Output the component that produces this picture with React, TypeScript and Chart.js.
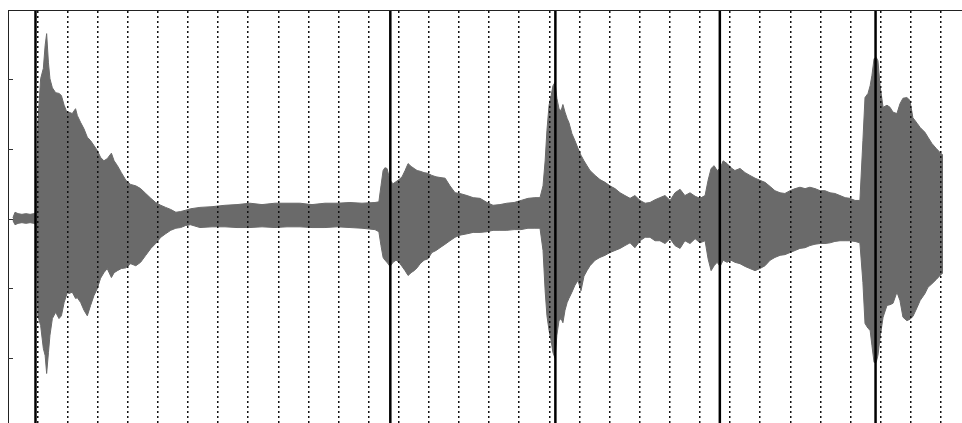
import { useEffect, useRef } from "react";
import { Chart, registerables } from "chart.js";

Chart.register(...registerables);

// time axis (grid units) of each envelope sample
const times = [
  -0.81, -0.74, -0.64, -0.51, -0.38, -0.24, -0.11, -0.04,
  0.02, 0.11, 0.2, 0.26, 0.31, 0.37, 0.42, 0.5, 0.61, 0.72,
  0.8, 0.89, 1.0, 1.05, 1.16, 1.27, 1.33, 1.44, 1.55, 1.66,
  1.77, 1.88, 1.99, 2.1, 2.21, 2.32, 2.46, 2.55, 2.66, 2.79,
  2.94, 3.1, 3.27, 3.43, 3.6, 3.77, 3.93, 4.1, 4.26, 4.43,
  4.6, 4.76, 4.93, 5.09,
  5.4, 5.8, 6.23, 6.63, 7.06, 7.46,
  7.89, 8.29, 8.72, 9.12, 9.55, 9.95, 10.38, 10.78, 11.21, 11.34,
  11.41, 11.48, 11.54, 11.61, 11.71, 11.81, 11.91, 12.01, 12.11, 12.21,
  12.31, 12.41, 12.51, 12.61, 12.71, 12.84, 12.97, 13.1, 13.24, 13.37,
  13.54, 13.7, 13.87, 14.03, 14.27, 14.47, 14.7, 14.93, 15.13, 15.36,
  15.59, 15.83, 16.06, 16.29, 16.52, 16.69, 16.79, 16.86, 16.92, 16.99,
  17.06, 17.12, 17.19, 17.25, 17.32, 17.39, 17.45, 17.52, 17.59, 17.65,
  17.75, 17.85, 17.95, 18.05, 18.15, 18.25, 18.35, 18.52, 18.68, 18.85,
  19.01, 19.18, 19.35, 19.51, 19.68, 19.84, 20.01, 20.18, 20.34, 20.51,
  20.67, 20.84, 21.01, 21.17, 21.34, 21.5, 21.67, 21.84, 22.0, 22.17,
  22.27, 22.37, 22.47, 22.57, 22.67, 22.77, 22.9, 23.03, 23.16, 23.33,
  23.5, 23.66, 23.83, 23.99, 24.16, 24.33, 24.49, 24.66, 24.82, 24.99,
  25.16, 25.32, 25.49, 25.65, 25.82, 25.99, 26.15, 26.32, 26.48, 26.65,
  26.82, 26.98, 27.15, 27.31, 27.41, 27.48, 27.58, 27.65, 27.71, 27.78,
  27.85, 27.91, 27.98, 28.08, 28.21, 28.31, 28.41, 28.54, 28.64, 28.74,
  28.87, 28.97, 29.07, 29.21, 29.31, 29.47, 29.57, 29.7, 29.84, 29.97,
  30.07,
];

// upper envelope of the waveform
const upperEnvelope = [
  0.01, 0.09, 0.07, 0.06, 0.07, 0.06, 0.07, 0.09,
  1.38, 2.01, 2.16, 2.49, 2.66, 2.24, 2.01, 1.88, 1.81, 1.8,
  1.77, 1.63, 1.51, 1.53, 1.51, 1.58, 1.48, 1.38, 1.29, 1.17,
  1.12, 1.05, 0.98, 0.88, 0.83, 0.86, 0.94, 0.83, 0.76, 0.66,
  0.55, 0.49, 0.47, 0.43, 0.36, 0.29, 0.23, 0.19, 0.16, 0.13,
  0.09, 0.1, 0.12, 0.14,
  0.16, 0.17, 0.19, 0.2, 0.22, 0.2,
  0.22, 0.22, 0.22, 0.2, 0.22, 0.22, 0.23, 0.22, 0.23, 0.24,
  0.47, 0.69, 0.73, 0.72, 0.55, 0.5, 0.53, 0.56, 0.6, 0.69,
  0.79, 0.75, 0.72, 0.69, 0.68, 0.66, 0.65, 0.62, 0.6, 0.59,
  0.58, 0.47, 0.37, 0.36, 0.33, 0.3, 0.29, 0.23, 0.19, 0.2,
  0.22, 0.23, 0.26, 0.29, 0.3, 0.3, 0.47, 0.83, 1.27, 1.63,
  1.77, 1.91, 1.96, 1.73, 1.58, 1.55, 1.64, 1.53, 1.44, 1.38,
  1.22, 1.12, 1.01, 0.91, 0.83, 0.76, 0.69, 0.62, 0.56, 0.52,
  0.47, 0.43, 0.37, 0.33, 0.29, 0.33, 0.26, 0.22, 0.23, 0.27,
  0.3, 0.33, 0.26, 0.37, 0.42, 0.33, 0.37, 0.32, 0.29, 0.33,
  0.55, 0.72, 0.76, 0.69, 0.72, 0.83, 0.79, 0.73, 0.69, 0.72,
  0.66, 0.62, 0.58, 0.55, 0.52, 0.46, 0.4, 0.37, 0.36, 0.4,
  0.43, 0.45, 0.43, 0.45, 0.43, 0.4, 0.4, 0.37, 0.36, 0.33,
  0.3, 0.29, 0.26, 0.26, 1.12, 1.74, 1.8, 1.91, 2.06, 2.3,
  2.32, 2.27, 1.91, 1.6, 1.63, 1.6, 1.53, 1.51, 1.65, 1.73,
  1.74, 1.7, 1.45, 1.37, 1.31, 1.24, 1.17, 1.08, 1.01, 0.95,
  0.91,
];

// lower envelope of the waveform
const lowerEnvelope = [
  -0.03, -0.09, -0.07, -0.06, -0.07, -0.06, -0.07, -0.09,
  -1.4, -1.54, -1.87, -1.97, -2.23, -1.93, -1.68, -1.44, -1.35, -1.44,
  -1.4, -1.21, -1.06, -1.08, -1.06, -1.15, -1.14, -1.21, -1.32, -1.4,
  -1.25, -1.11, -1.01, -0.86, -0.78, -0.72, -0.85, -0.78, -0.75, -0.72,
  -0.71, -0.65, -0.68, -0.63, -0.53, -0.43, -0.36, -0.27, -0.22, -0.17,
  -0.14, -0.13, -0.1, -0.09,
  -0.13, -0.12, -0.12, -0.13, -0.13, -0.12,
  -0.13, -0.12, -0.12, -0.13, -0.13, -0.12, -0.13, -0.14, -0.16, -0.19,
  -0.39, -0.56, -0.6, -0.63, -0.69, -0.63, -0.6, -0.63, -0.69, -0.75,
  -0.82, -0.78, -0.75, -0.71, -0.65, -0.6, -0.58, -0.49, -0.46, -0.42,
  -0.37, -0.32, -0.27, -0.24, -0.22, -0.2, -0.2, -0.19, -0.17, -0.17,
  -0.17, -0.16, -0.16, -0.14, -0.14, -0.14, -0.46, -1.04, -1.4, -1.61,
  -1.76, -1.93, -2.01, -1.68, -1.47, -1.44, -1.5, -1.32, -1.21, -1.15,
  -1.06, -0.96, -0.89, -1.04, -0.83, -0.75, -0.68, -0.6, -0.56, -0.53,
  -0.49, -0.46, -0.43, -0.39, -0.35, -0.42, -0.32, -0.27, -0.27, -0.32,
  -0.32, -0.36, -0.29, -0.39, -0.43, -0.32, -0.36, -0.29, -0.35, -0.32,
  -0.58, -0.75, -0.68, -0.63, -0.69, -0.6, -0.63, -0.6, -0.63, -0.65,
  -0.69, -0.72, -0.75, -0.72, -0.68, -0.6, -0.56, -0.53, -0.52, -0.49,
  -0.46, -0.43, -0.42, -0.39, -0.37, -0.36, -0.36, -0.35, -0.33, -0.32,
  -0.32, -0.32, -0.33, -0.35, -0.92, -1.51, -1.58, -1.61, -1.83, -2.07,
  -2.07, -1.97, -1.71, -1.42, -1.25, -1.24, -1.22, -1.06, -1.18, -1.42,
  -1.47, -1.45, -1.41, -1.28, -1.18, -1.08, -0.99, -0.94, -0.88, -0.82,
  -0.78,
];

// solid vertical marker lines (onsets)
const markerTimes = [-0.06, 11.72, 17.2, 22.66, 27.83];

// dotted vertical grid positions
const gridTimes = [
  0, 1, 2, 3, 4, 5, 6, 7, 8, 9, 10, 11, 12, 13, 14, 15,
  16, 17, 18, 19, 20, 21, 22, 23, 24, 25, 26, 27, 28, 29, 30,
];

// amplitude ticks on the left axis
const ampTicks = [-2, -1, 0, 1, 2];

const X_MIN = -0.973;
const X_MAX = 30.7;
const Y_MIN = -3;
const Y_MAX = 3;

const WAVE = "#6a6a6a";

const innerTicks = {
  id: "innerTicks",
  afterDraw(chart: any) {
    const { ctx, chartArea, scales } = chart;
    const y = scales.y;
    ctx.save();
    ctx.strokeStyle = "#333";
    ctx.lineWidth = 1;
    ampTicks.forEach((v) => {
      const py = Math.round(y.getPixelForValue(v)) + 0.5;
      ctx.beginPath();
      ctx.moveTo(chartArea.left, py);
      ctx.lineTo(chartArea.left + 5, py);
      ctx.stroke();
    });
    ctx.restore();
  },
};

export default function App() {
  const ref = useRef<HTMLCanvasElement | null>(null);

  useEffect(() => {
    if (!ref.current) return;
    const n = Math.min(times.length, upperEnvelope.length, lowerEnvelope.length);
    const upper = times.slice(0, n).map((t, i) => ({ x: t, y: upperEnvelope[i] }));
    const lower = times.slice(0, n).map((t, i) => ({ x: t, y: lowerEnvelope[i] }));
    const markers = markerTimes.map((t) => ({
      type: "line" as const,
      data: [
        { x: t, y: Y_MIN },
        { x: t, y: Y_MAX },
      ],
      borderColor: "#000",
      borderWidth: 2.5,
      pointRadius: 0,
      fill: false,
      order: 0,
    }));

    const chart = new Chart(ref.current, {
      type: "line",
      data: {
        datasets: [
          ...markers,
          {
            data: upper,
            borderColor: WAVE,
            backgroundColor: WAVE,
            borderWidth: 1,
            pointRadius: 0,
            fill: "+1",
            order: 1,
          },
          {
            data: lower,
            borderColor: WAVE,
            backgroundColor: WAVE,
            borderWidth: 1,
            pointRadius: 0,
            fill: false,
            order: 2,
          },
        ] as any,
      },
      options: {
        animation: false,
        responsive: false,
        maintainAspectRatio: false,
        layout: { padding: { left: 8, top: 10, right: 0, bottom: 1 } },
        plugins: {
          legend: { display: false },
          tooltip: { enabled: false },
        },
        scales: {
          x: {
            type: "linear",
            position: "top",
            min: X_MIN,
            max: X_MAX,
            z: 1,
            afterBuildTicks: (scale: any) => {
              scale.ticks = gridTimes.map((v) => ({ value: v }));
            },
            ticks: { display: false },
            grid: {
              display: true,
              drawTicks: false,
              color: "#111",
              lineWidth: 1.5,
              z: 1,
            },
            border: {
              display: true,
              color: "#222",
              width: 1,
              dash: [2, 3],
              z: 1,
            },
          },
          y: {
            type: "linear",
            min: Y_MIN,
            max: Y_MAX,
            z: 1,
            afterBuildTicks: (scale: any) => {
              scale.ticks = ampTicks.map((v) => ({ value: v }));
            },
            ticks: { display: false },
            grid: { display: false, drawTicks: false },
            border: { display: true, color: "#222", width: 1, z: 1 },
          },
        },
      } as any,
      plugins: [innerTicks],
    });
    return () => chart.destroy();
  }, []);

  return (
    <div
      style={{
        position: "fixed",
        left: 0,
        top: 0,
        width: 962,
        height: 423,
        overflow: "hidden",
        background: "#fff",
      }}
    >
      <canvas
        ref={ref}
        width={962}
        height={428}
        style={{ display: "block", width: 962, height: 428 }}
      />
    </div>
  );
}
